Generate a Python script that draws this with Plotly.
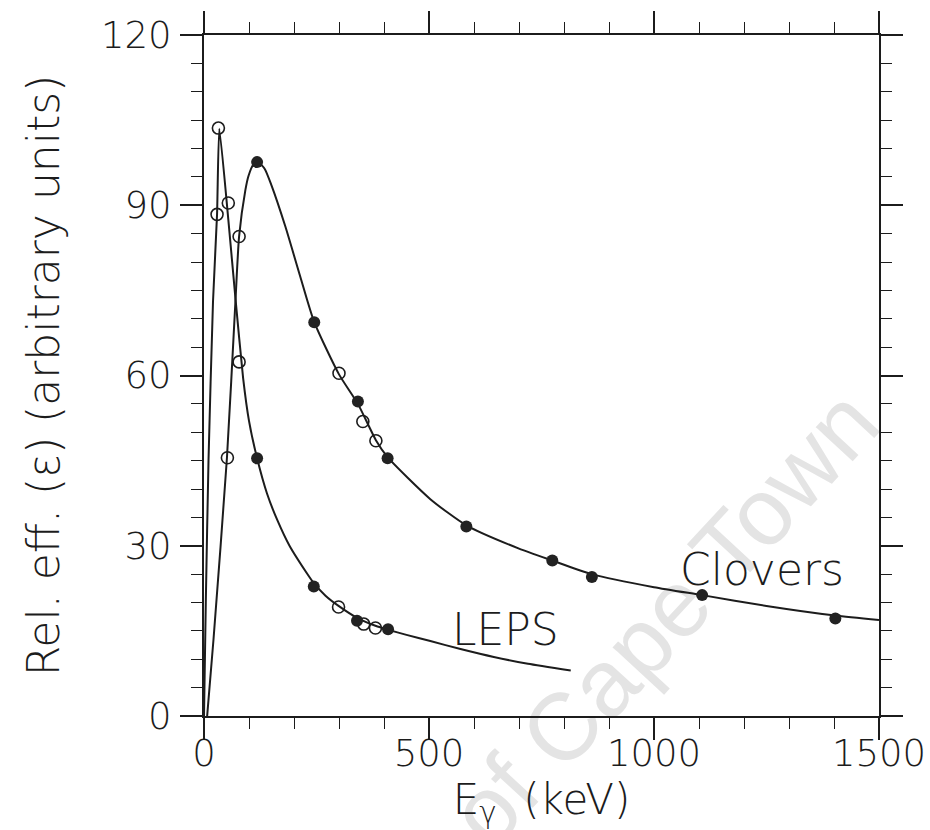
import plotly.graph_objects as go

# ---- Fitted efficiency curves ----
leps_curve_x = [0, 4, 10, 20, 29, 34, 54, 70, 87, 100, 118, 140, 163, 190, 229, 244, 270,
                299, 340, 381, 409, 450, 503, 570, 644, 720, 815]
leps_curve_y = [0, 20, 45, 73, 88.4, 103.5, 87.5, 73.5, 59.5, 52, 45.4, 39.2, 34.5, 30,
                25.1, 23.4, 21.2, 19.4, 17.3, 15.9, 15.2, 14.3, 13.2, 11.8, 10.4, 9.2, 8.0]

clover_curve_x = [7, 21, 51, 70, 78, 92, 99, 110, 120, 135, 150, 181, 214, 245, 300, 342,
                  382, 408, 503, 583, 700, 774, 862, 1000, 1107, 1250, 1403, 1500]
clover_curve_y = [0, 13.4, 45.5, 73.3, 84.5, 92.7, 95.2, 97.2, 97.6, 96.4, 93.5, 86.2, 77.4,
                  69.4, 60.2, 55.0, 48.6, 45.6, 38.2, 33.6, 29.5, 27.4, 25.0, 22.7, 21.3,
                  19.4, 17.7, 16.9]

# ---- Measured points ----
open_x = [29, 32, 54, 78, 299, 355, 381, 52, 78, 300, 353, 382]
open_y = [88.4, 103.6, 90.4, 62.4, 19.2, 16.2, 15.5, 45.5, 84.5, 60.4, 51.9, 48.5]

filled_x = [118, 244, 340, 409, 118, 245, 342, 408, 583, 774, 862, 1107, 1403]
filled_y = [45.4, 22.8, 16.8, 15.3, 97.6, 69.4, 55.4, 45.4, 33.4, 27.4, 24.5, 21.3, 17.2]

# ---- Axis ticks ----
x_tickvals = [0, 500, 1000, 1500]
x_ticktext = ["0", "500", "1000", "1500"]
y_tickvals = [0, 30, 60, 90, 120]
y_ticktext = ["0", "30", "60", "90", "120"]

INK = "#1c1c1c"
FONT = "DejaVu Sans"
W = 200

fig = go.Figure()
fig.add_trace(go.Scatter(x=leps_curve_x, y=leps_curve_y, mode="lines",
                         line=dict(color=INK, width=2, shape="spline", smoothing=0.5),
                         showlegend=False, hoverinfo="skip"))
fig.add_trace(go.Scatter(x=clover_curve_x, y=clover_curve_y, mode="lines",
                         line=dict(color=INK, width=2, shape="spline", smoothing=0.6),
                         showlegend=False, hoverinfo="skip"))
fig.add_trace(go.Scatter(x=open_x, y=open_y, mode="markers",
                         marker=dict(symbol="circle-open", size=12, color=INK,
                                     line=dict(width=1.6, color=INK)),
                         showlegend=False))
fig.add_trace(go.Scatter(x=filled_x, y=filled_y, mode="markers",
                         marker=dict(symbol="circle", size=12, color="#222222",
                                     line=dict(width=0)),
                         showlegend=False))

fig.add_annotation(x=1240, y=25.9, text="Clovers", showarrow=False,
                   font=dict(family=FONT, size=44, color=INK, weight=W))
fig.add_annotation(x=669, y=15.2, text="LEPS", showarrow=False,
                   font=dict(family=FONT, size=44, color=INK, weight=W))

# faint diagonal watermark, drawn beneath the data
fig.add_shape(type="line", xref="paper", yref="paper",
              x0=0.1464, y0=-0.4095, x1=0.7494, y1=0.238, layer="below",
              line=dict(color="rgba(0,0,0,0)", width=0),
              label=dict(text="University of Cape Town", textposition="middle",
                         yanchor="middle", padding=0,
                         font=dict(family="Liberation Sans", size=95, color="#e4e4e4")))

axis_common = dict(
    showgrid=False, zeroline=False, showline=True, linecolor=INK, linewidth=2,
    mirror="allticks", ticks="outside", ticklen=22, tickwidth=1.6, tickcolor=INK,
    tickfont=dict(family=FONT, size=37, color=INK, weight=W),
)

fig.update_xaxes(range=[0, 1500], tickvals=x_tickvals, ticktext=x_ticktext,
                 minor=dict(dtick=100, ticks="outside", ticklen=11, tickwidth=1.3,
                            tickcolor=INK, showgrid=False),
                 title=dict(text="E<sub>γ</sub>\u00a0\u00a0(keV)", standoff=9,
                            font=dict(family=FONT, size=42, color=INK, weight=W)),
                 ticklabelstandoff=-18,
                 **axis_common)
fig.update_yaxes(range=[0, 120], tickvals=y_tickvals, ticktext=y_ticktext,
                 minor=dict(dtick=5, ticks="outside", ticklen=11, tickwidth=1.3,
                            tickcolor=INK, showgrid=False),
                 title=dict(text="Rel. eff. (ε) (arbitrary units)", standoff=28,
                            font=dict(family=FONT, size=44, color=INK, weight=W)),
                 ticklabelstandoff=1,
                 **axis_common)

fig.update_layout(
    width=930, height=830,
    margin=dict(l=204, r=51, t=35, b=114, autoexpand=False),
    paper_bgcolor="white", plot_bgcolor="white",
)

fig.write_html("out.html", config={"displayModeBar": False},
               post_script="document.body.style.margin='0';document.body.style.overflow='hidden';")
